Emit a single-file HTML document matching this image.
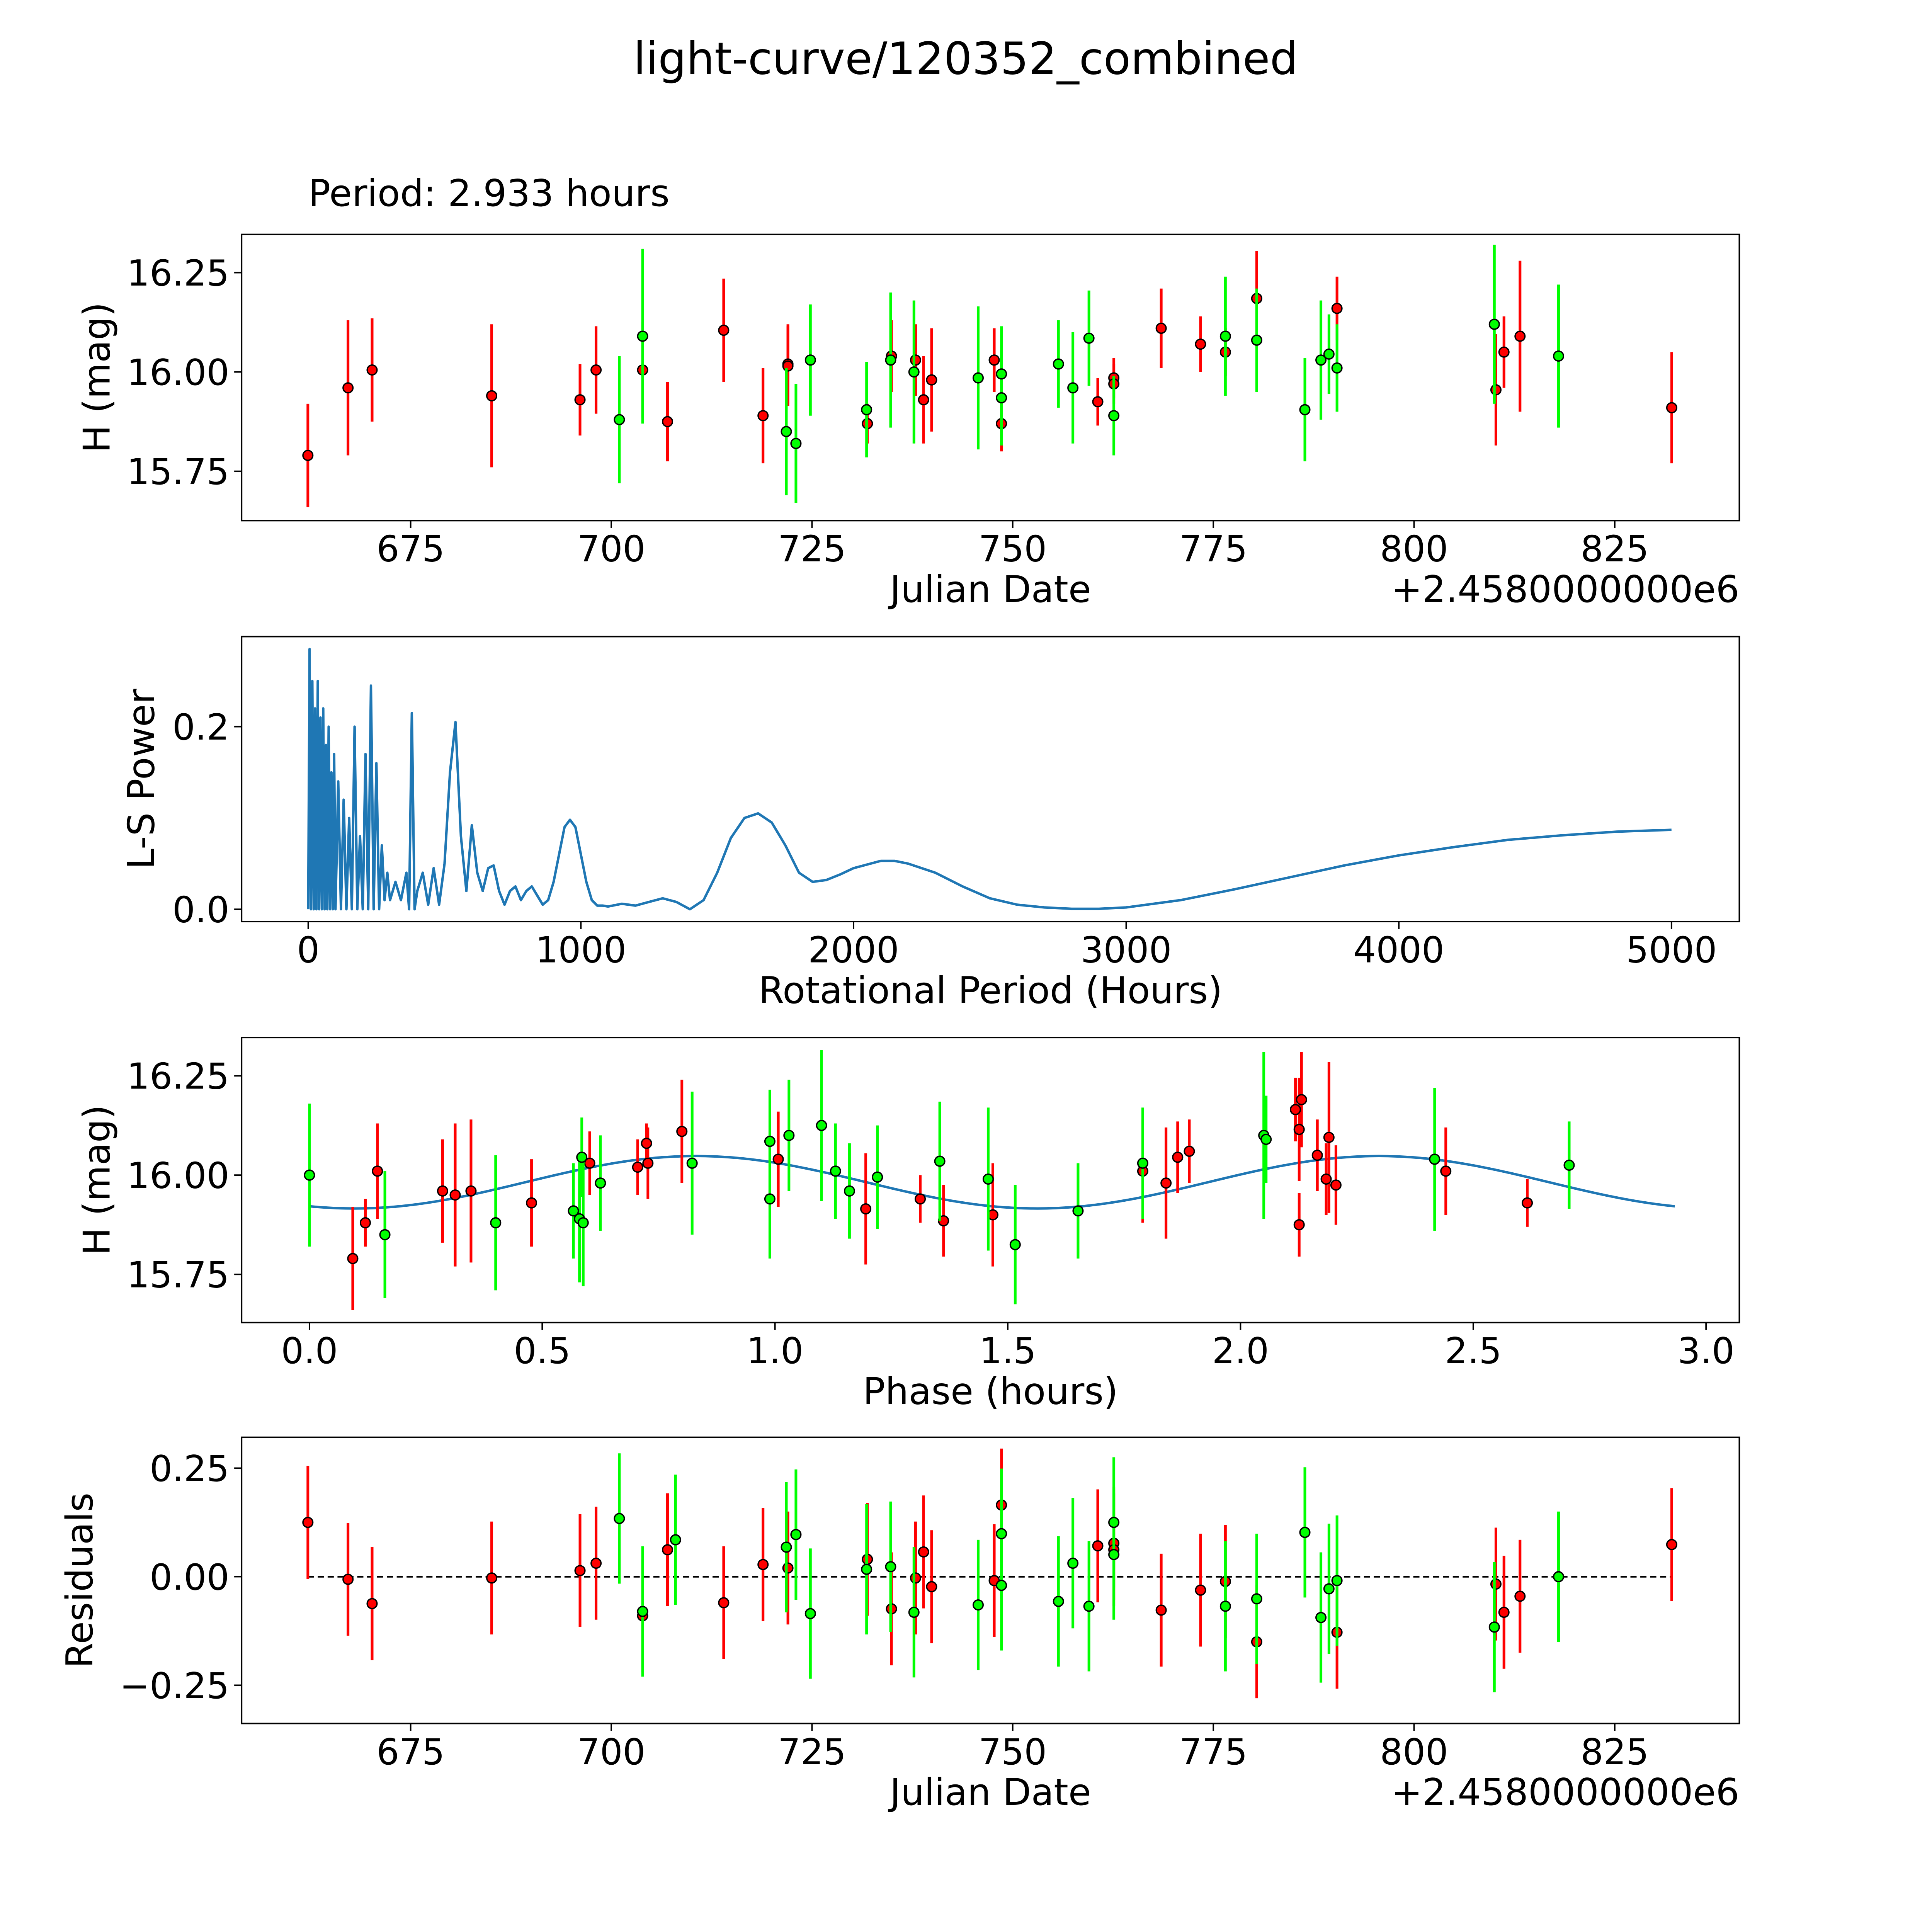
<!DOCTYPE html>
<html><head><meta charset="utf-8"><style>
html,body{margin:0;padding:0;background:#fff;overflow:hidden;}
svg{display:block;width:100vw;height:100vw;}
text{font-family:"DejaVu Sans","Liberation Sans",sans-serif;fill:#000;}
</style></head><body>
<svg id="fig" viewBox="1.16 -2 1566 1566" preserveAspectRatio="xMinYMin meet" xmlns="http://www.w3.org/2000/svg">
<rect x="-10" y="-10" width="1600" height="1600" fill="#fff"/>
<text x="784" y="58" font-size="36" text-anchor="middle">light-curve/120352_combined</text>
<text x="251" y="165" font-size="30">Period: 2.933 hours</text>
</svg>
<script>
// ---- Panel 1 data: red and green observations
const redDate=[662.2,667.2,670.2,685.1,696.1,698.1,703.9,707.0,714.0,718.9,722.0,722.0,731.9,734.9,737.9,738.9,739.9,747.7,748.6,760.6,762.6,762.6,768.5,773.4,776.5,780.4,790.4,810.2,811.2,813.2,832.1];
const redMag=[15.79,15.96,16.005,15.94,15.93,16.005,16.005,15.875,16.105,15.89,16.02,16.015,15.87,16.04,16.03,15.93,15.98,16.03,15.87,15.925,15.985,15.97,16.11,16.07,16.05,16.185,16.16,15.955,16.05,16.09,15.91];
const redErr=[0.13,0.17,0.13,0.18,0.09,0.11,0.12,0.1,0.13,0.12,0.1,0.1,0.05,0.09,0.09,0.11,0.13,0.08,0.07,0.06,0.05,0.05,0.1,0.07,0.06,0.12,0.08,0.14,0.09,0.19,0.14];
const grnDate=[701.0,703.9,721.8,723.0,724.8,731.8,734.8,737.7,745.7,748.6,748.6,755.7,757.5,759.5,762.6,776.5,780.4,786.4,788.4,789.4,790.4,810.0,818.0];
const grnMag=[15.88,16.09,15.85,15.82,16.03,15.905,16.03,16.0,15.985,15.995,15.935,16.02,15.96,16.085,15.89,16.09,16.08,15.905,16.03,16.045,16.01,16.12,16.04];
const grnErr=[0.16,0.22,0.16,0.15,0.14,0.12,0.17,0.18,0.18,0.12,0.12,0.11,0.14,0.12,0.1,0.15,0.13,0.13,0.15,0.1,0.11,0.2,0.18];
// ---- Panel 2: periodogram
const lsPeriod=[0,5,10,15,20,25,30,35,40,45,50,55,60,65,70,75,80,85,90,95,100,110,120,130,140,150,160,170,180,190,200,210,220,230,240,250,260,270,280,290,300,320,340,360,370,380,390,400,420,440,460,480,500,520,540,560,580,600,620,640,660,680,700,720,740,760,780,800,820,840,860,880,900,920,940,960,980,1000,1020,1040,1060,1080,1100,1150,1200,1250,1300,1350,1400,1450,1500,1550,1600,1650,1700,1750,1800,1850,1900,1950,2000,2100,2150,2200,2300,2400,2500,2600,2700,2800,2900,3000,3200,3400,3600,3800,4000,4200,4400,4600,4800,5000];
const lsPower=[0,0.285,0,0.25,0,0.22,0,0.25,0,0.21,0,0.22,0,0.18,0,0.2,0,0.15,0,0.17,0,0.14,0,0.12,0,0.1,0,0.2,0,0.08,0,0.17,0,0.245,0,0.16,0,0.07,0.01,0.04,0.01,0.03,0.01,0.04,0,0.215,0,0.02,0.04,0.005,0.045,0.005,0.05,0.15,0.205,0.08,0.02,0.092,0.04,0.02,0.045,0.048,0.02,0.005,0.02,0.025,0.01,0.02,0.025,0.015,0.005,0.01,0.03,0.06,0.09,0.098,0.09,0.06,0.03,0.01,0.004,0.004,0.003,0.006,0.004,0.008,0.012,0.008,0,0.01,0.04,0.078,0.1,0.105,0.095,0.07,0.04,0.03,0.032,0.038,0.045,0.053,0.053,0.05,0.04,0.025,0.012,0.005,0.002,0.0005,0.0005,0.002,0.01,0.022,0.035,0.048,0.059,0.068,0.076,0.081,0.085,0.087];
// ---- Panel 3: phased
const redPhase=[0.093,0.12,0.146,0.286,0.313,0.347,0.477,0.602,0.705,0.724,0.727,0.80,1.007,1.195,1.312,1.362,1.468,1.79,1.84,1.865,1.89,2.118,2.126,2.131,2.126,2.165,2.184,2.19,2.205,2.441,2.616];
const redPMag=[15.79,15.88,16.01,15.96,15.95,15.96,15.93,16.03,16.02,16.08,16.03,16.11,16.04,15.915,15.94,15.885,15.90,16.01,15.98,16.045,16.06,16.165,16.115,16.19,15.875,16.05,15.99,16.095,15.975,16.01,15.93];
const redPErr=[0.13,0.06,0.12,0.13,0.18,0.18,0.11,0.08,0.07,0.05,0.09,0.13,0.12,0.14,0.06,0.09,0.13,0.13,0.14,0.09,0.08,0.08,0.13,0.12,0.08,0.09,0.09,0.19,0.1,0.11,0.06];
const grnPhase=[0.0,0.4,0.162,0.567,0.58,0.585,0.588,0.625,0.822,0.989,0.989,1.03,1.10,1.13,1.16,1.22,1.354,1.458,1.516,1.651,1.79,2.05,2.055,2.417,2.706];
const grnPMag=[16.0,15.88,15.85,15.91,15.89,16.045,15.88,15.98,16.03,15.94,16.085,16.1,16.125,16.01,15.96,15.995,16.035,15.99,15.825,15.91,16.03,16.10,16.09,16.04,16.025];
const grnPErr=[0.18,0.17,0.16,0.12,0.16,0.1,0.16,0.12,0.18,0.15,0.13,0.14,0.19,0.12,0.12,0.13,0.15,0.18,0.15,0.12,0.14,0.21,0.11,0.18,0.11];
const fitMean=15.982, fitAmp=0.066, fitPeak=0.83, fitPeriod=1.4665, phaseMax=2.933;
// ---- Panel 4: residuals
const redRes=[0.125,-0.006,-0.062,-0.003,0.014,0.031,-0.09,0.062,-0.06,0.028,0.02,0.04,-0.074,-0.003,0.057,-0.023,-0.009,0.165,0.071,0.077,0.062,-0.077,-0.031,-0.011,-0.15,-0.128,-0.017,-0.082,-0.045,0.074];
const redResDate=[662.2,667.2,670.2,685.1,696.1,698.1,703.9,707.0,714.0,718.9,722.0,731.9,734.9,737.9,738.9,739.9,747.7,748.6,760.6,762.6,762.6,768.5,773.4,776.5,780.4,790.4,810.2,811.2,813.2,832.1];
const grnRes=[0.134,-0.08,0.085,0.068,0.097,-0.085,0.017,0.023,-0.082,-0.065,0.099,-0.02,-0.057,0.031,-0.068,0.125,0.051,-0.068,-0.051,0.102,-0.094,-0.028,-0.009,-0.116,0.0];
const grnResDate=[701.0,703.9,708.0,721.8,723.0,724.8,731.8,734.8,737.7,745.7,748.6,748.6,755.7,757.5,759.5,762.6,762.6,776.5,780.4,786.4,788.4,789.4,790.4,810.0,818.0];

const NS='http://www.w3.org/2000/svg';
const fig=document.getElementById('fig');
function mk(tag,attrs,parent){const e=document.createElementNS(NS,tag);for(const k in attrs)e.setAttribute(k,attrs[k]);(parent||fig).appendChild(e);return e;}
const L=197,R=1411;
function lin(d0,d1,p0,p1){return v=>p0+(v-d0)*(p1-p0)/(d1-d0);}

function axesFrame(name,top,bot,xs,xticks,xlab,ys,yticks,ylab,xlabel,ylabel,offset){
  const g=mk('g',{});
  
  
  xticks.forEach((t,i)=>{const x=xs(t);
    mk('line',{x1:x,x2:x,y1:bot,y2:bot+6,stroke:'#000','stroke-width':1.2},g);
    const tx=mk('text',{x:x,y:bot+33,'font-size':29,'text-anchor':'middle'},g);tx.textContent=xlab[i];
    
    });
  yticks.forEach((t,i)=>{const y=ys(t);
    mk('line',{x1:L-6,x2:L,y1:y,y2:y,stroke:'#000','stroke-width':1.2},g);
    const tx=mk('text',{x:L-10,y:y+10.5,'font-size':29,'text-anchor':'end'},g);tx.textContent=ylab[i];
    
    });
  const xl=mk('text',{x:(L+R)/2,y:bot+66,'font-size':30,'text-anchor':'middle'},g);xl.textContent=xlabel;
  
  
  const cy=(top+bot)/2, lx=ylabel.x;
  const yl=mk('text',{x:lx,y:cy,'font-size':30,'text-anchor':'middle',transform:`rotate(-90 ${lx} ${cy})`},g);yl.textContent=ylabel.t;
  
  
  if(offset){const o=mk('text',{x:R,y:bot+66,'font-size':30,'text-anchor':'end'},g);o.textContent=offset;
    
    }
  return g;
}
function border(top,bot){const r=mk('rect',{x:L,y:top,width:R-L,height:bot-top,fill:'none',stroke:'#000','stroke-width':1.2});
  
  }
function errPts(xs,ys,X,Y,E,color,name){
  const g=mk('g',{});
  
  
  for(let i=0;i<X.length;i++){
    const x=xs(X[i]);
    const l=mk('line',{x1:x,x2:x,y1:ys(Y[i]-E[i]),y2:ys(Y[i]+E[i]),stroke:color,'stroke-width':2.2},g);
    
    
  }
  for(let i=0;i<X.length;i++){
    const c=mk('circle',{cx:xs(X[i]),cy:ys(Y[i]),r:4,fill:color,stroke:'#000','stroke-width':1.1},g);
    
    
  }
}
const dateTicks=[675,700,725,750,775,800,825];
const dateLab=dateTicks.map(String);
// Panel 1
{const top=188,bot=420;const xs=lin(675,825,334,1310),ys=lin(16.25,15.75,219,380);
 axesFrame('light-curve-panel',top,bot,xs,dateTicks,dateLab,ys,[15.75,16.0,16.25],['15.75','16.00','16.25'],'Julian Date',{x:90,t:'H (mag)'},'+2.4580000000e6');
 errPts(xs,ys,redDate,redMag,redErr,'#ff0000','red-observations');
 errPts(xs,ys,grnDate,grnMag,grnErr,'#00ff00','green-observations');
 border(top,bot);}
// Panel 2
{const top=514,bot=745;const xs=lin(0,5000,251,1356),ys=lin(0,0.2,735,587);
 axesFrame('periodogram-panel',top,bot,xs,[0,1000,2000,3000,4000,5000],['0','1000','2000','3000','4000','5000'],ys,[0,0.2],['0.0','0.2'],'Rotational Period (Hours)',{x:126,t:'L-S Power'});
 const pts=lsPeriod.map((p,i)=>xs(p).toFixed(2)+','+ys(lsPower[i]).toFixed(2)).join(' ');
 const pl=mk('polyline',{points:pts,fill:'none',stroke:'#1f77b4','stroke-width':2,'stroke-linejoin':'round'});
 
 
 border(top,bot);}
// Panel 3
{const top=839,bot=1070;const xs=lin(0,3,252,1384),ys=lin(16.25,15.75,870,1031);
 axesFrame('phase-panel',top,bot,xs,[0,0.5,1,1.5,2,2.5,3],['0.0','0.5','1.0','1.5','2.0','2.5','3.0'],ys,[15.75,16.0,16.25],['15.75','16.00','16.25'],'Phase (hours)',{x:90,t:'H (mag)'});
 const fp=[];for(let i=0;i<=300;i++){const p=phaseMax*i/300;fp.push(xs(p).toFixed(2)+','+ys(fitMean+fitAmp*Math.cos(2*Math.PI*(p-fitPeak)/fitPeriod)).toFixed(2));}
 const pl=mk('polyline',{points:fp.join(' '),fill:'none',stroke:'#1f77b4','stroke-width':2});
 
 
 errPts(xs,ys,redPhase,redPMag,redPErr,'#ff0000','red-phased-points');
 errPts(xs,ys,grnPhase,grnPMag,grnPErr,'#00ff00','green-phased-points');
 border(top,bot);}
// Panel 4
{const top=1163,bot=1395;const xs=lin(675,825,334,1310),ys=lin(0.25,-0.25,1188,1364);
 axesFrame('residuals-panel',top,bot,xs,dateTicks,dateLab,ys,[-0.25,0,0.25],['\u22120.25','0.00','0.25'],'Julian Date',{x:76,t:'Residuals'},'+2.4580000000e6');
 const zl=mk('line',{x1:xs(662.2),x2:xs(832.1),y1:ys(0),y2:ys(0),stroke:'#000','stroke-width':1.4,'stroke-dasharray':'5,3'});
 
 
 errPts(xs,ys,redResDate,redRes,redResDate.map(()=>0.13),'#ff0000','red-residuals');
 errPts(xs,ys,grnResDate,grnRes,grnResDate.map(()=>0.15),'#00ff00','green-residuals');
 border(top,bot);}
</script>
</body></html>
